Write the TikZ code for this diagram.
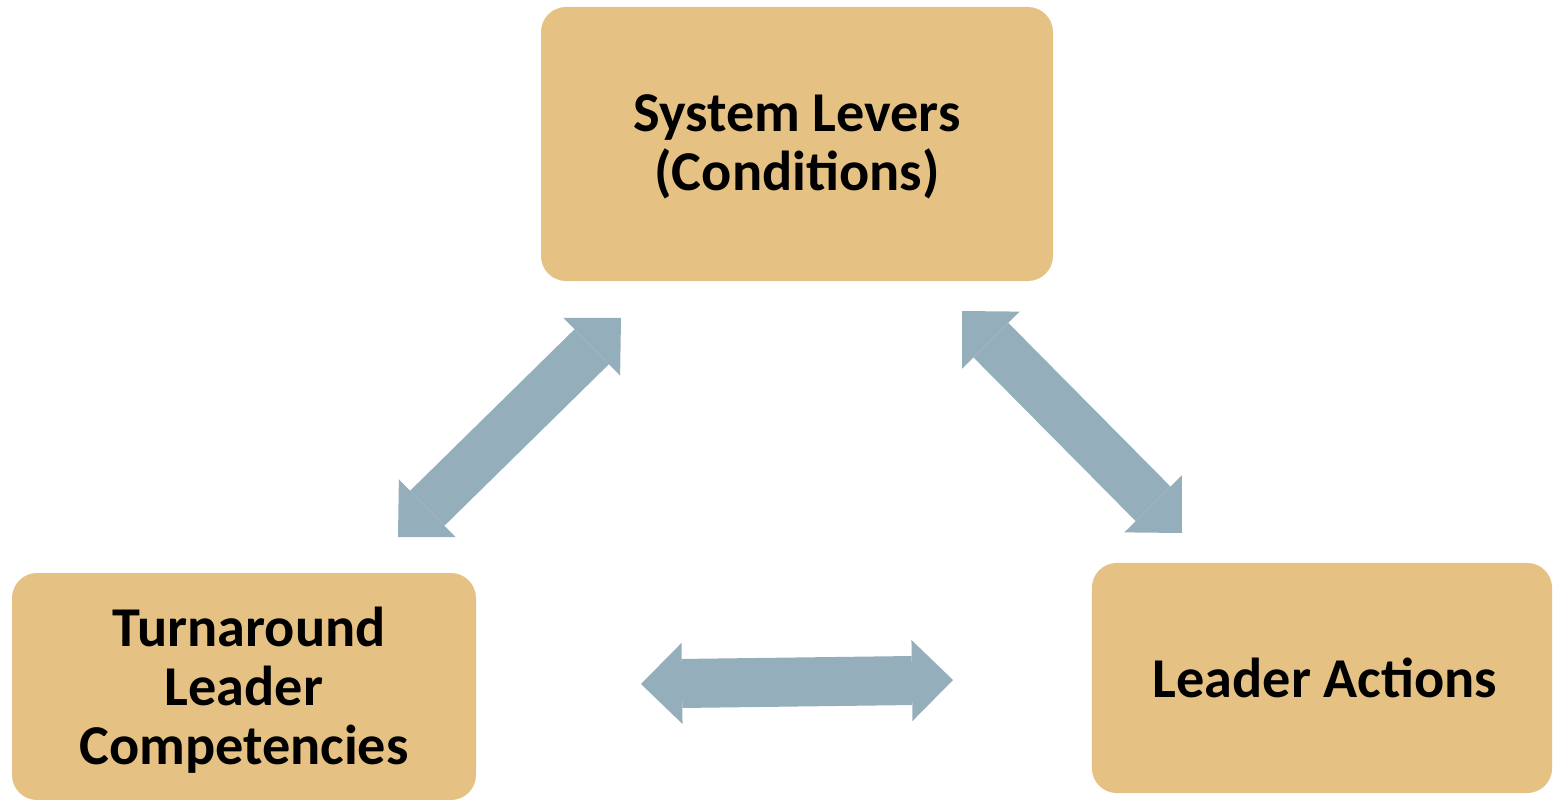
\documentclass[tikz,border=0pt]{standalone}
\usepackage{fontspec}
\setmainfont{Carlito}
\usetikzlibrary{arrows.meta}
\definecolor{leverfill}{RGB}{229,194,132}
\definecolor{linkblue}{RGB}{148,174,188}
\begin{document}
\begin{tikzpicture}[x=0.01cm, y=-0.01cm,
    leverbox/.style={fill=leverfill, rounded corners=0.25cm, align=center,
      font=\fontsize{16}{16.8}\selectfont\bfseries, inner sep=0pt},
    link/.style={line width=0.49cm, color=linkblue,
      {Triangle[length=0.41cm, width=0.81cm, line width=0pt]}-{Triangle[length=0.41cm, width=0.81cm, line width=0pt]}}]
            \useasboundingbox (0,0) rectangle (1553,800);
            \fill[leverfill, rounded corners=0.25cm] (541,7) rectangle (1053,281);
            \node[leverbox, align=center] (levers) at (797,147) {System Levers\\(Conditions)};
            \fill[leverfill, rounded corners=0.25cm] (12,573) rectangle (476,800);
            \node[leverbox] (competencies) at (244,690) {\hspace*{0.1cm}Turnaround\\Leader\\Competencies};
            \node[leverbox, minimum width=4.60cm, minimum height=2.30cm] (actions) at (1322,678) {\hspace*{0.06cm}Leader Actions};
            \coordinate (LC) at (398,537);
            \coordinate (LS) at (621,318);
            \coordinate (RS) at (962,311);
            \coordinate (RA) at (1182,533);
            \coordinate (HC) at (641,684);
            \coordinate (HA) at (953,680);
            \draw[link] (LC) -- (LS);
            \draw[link] (RS) -- (RA);
            \draw[link] (HC) -- (HA);
        \end{tikzpicture}
\end{document}
